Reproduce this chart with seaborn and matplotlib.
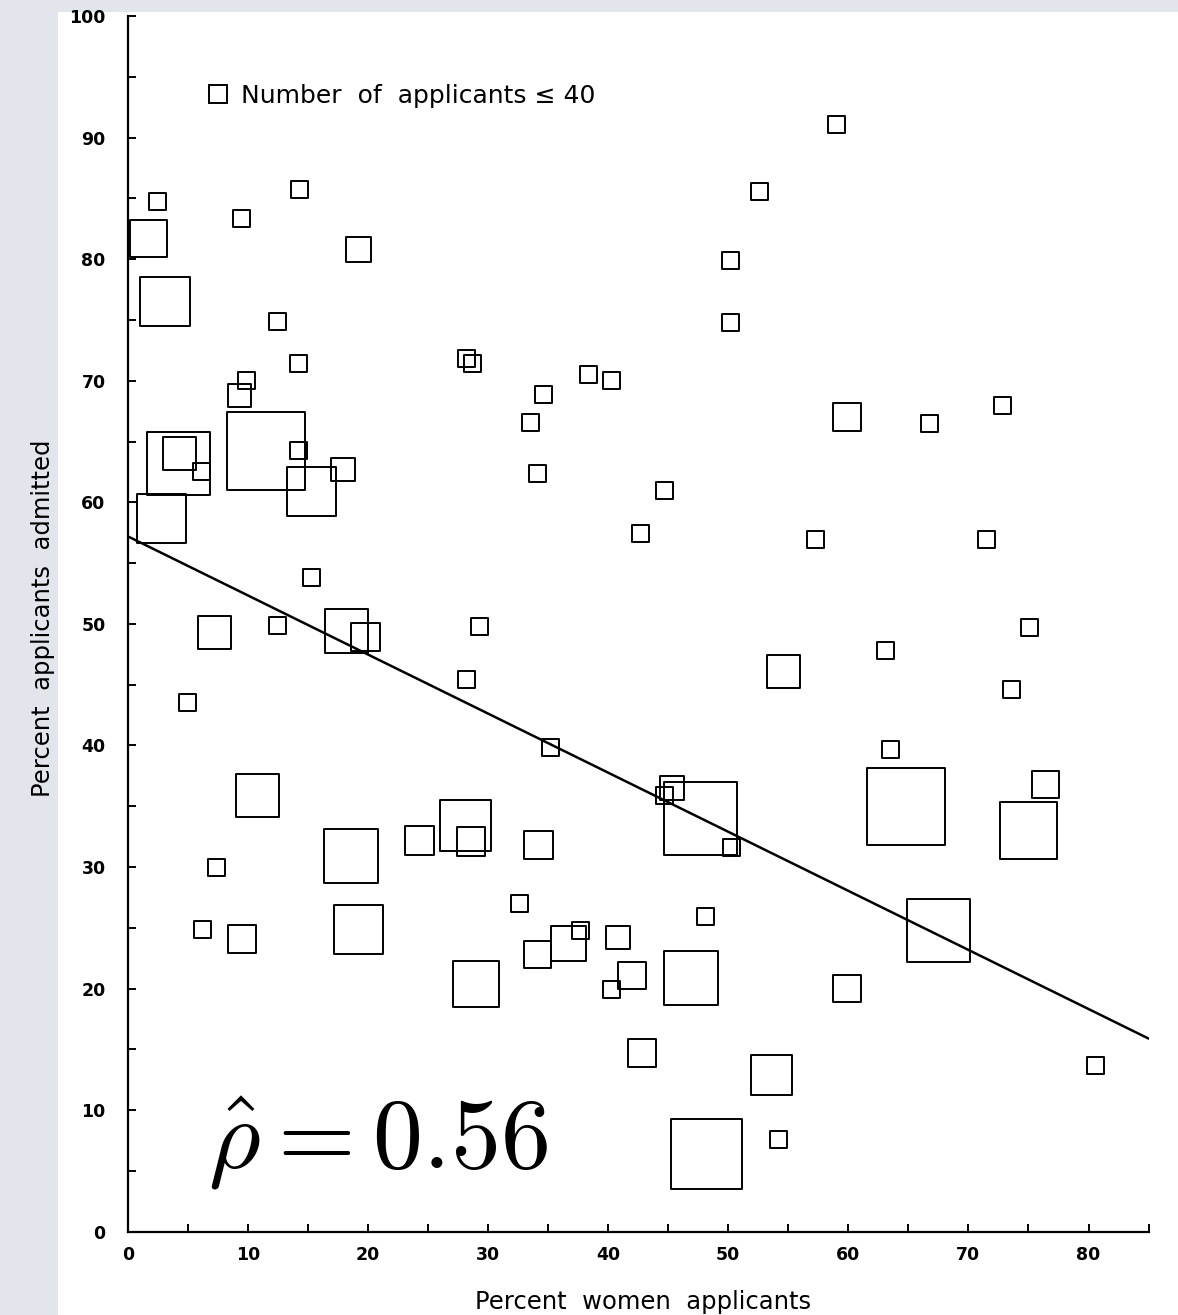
import matplotlib
matplotlib.use("Agg")
import matplotlib.pyplot as plt
import matplotlib.ticker as ticker
from matplotlib.lines import Line2D
from matplotlib.patches import Rectangle
import seaborn as sns
import pandas as pd

# percent women applicants, percent admitted, number of applicants
pct_women = [2.5, 9.5, 14.3, 1.7, 19.2, 3.1, 12.5, 14.2, 9.9, 9.3,
             28.2, 28.7, 34.6, 33.5, 38.4, 40.3, 34.1, 4.2, 4.3, 6.1,
             11.5, 14.2, 15.3, 17.9, 2.8, 59.0, 52.6, 50.2, 50.2, 59.9,
             66.8, 72.8, 44.7, 42.7, 15.3, 7.2, 12.5, 18.2, 19.8, 29.3,
             28.2, 5.0, 35.2, 10.8, 28.1, 28.6, 24.3, 34.2, 18.6, 7.4,
             57.3, 71.5, 75.1, 63.1, 54.6, 73.6, 63.5, 64.8, 76.4, 75.0,
             47.7, 45.3, 44.7, 50.3, 19.2, 6.2, 9.5, 32.6, 34.1, 36.7,
             37.7, 40.8, 29.0, 40.3, 42.0, 42.8, 48.1, 46.9, 59.9, 67.5,
             80.6, 53.6, 48.2, 54.2]
pct_admitted = [84.7, 83.3, 85.7, 81.7, 80.8, 76.5, 74.9, 71.4, 70.0, 68.8,
                71.8, 71.4, 68.9, 66.6, 70.5, 70.0, 62.4, 63.2, 64.0, 62.5,
                64.2, 64.3, 60.9, 62.7, 58.7, 91.1, 85.6, 79.9, 74.8, 67.0,
                66.5, 68.0, 61.0, 57.4, 53.8, 49.3, 49.9, 49.4, 48.9, 49.8,
                45.4, 43.5, 39.8, 35.9, 33.4, 32.1, 32.2, 31.8, 30.9, 30.0,
                56.9, 56.9, 49.7, 47.8, 46.1, 44.6, 39.7, 35.0, 36.8, 33.0,
                34.0, 36.5, 35.9, 31.6, 24.9, 24.9, 24.1, 27.0, 22.8, 23.7,
                24.8, 24.2, 20.4, 19.9, 21.1, 14.7, 25.9, 20.9, 20.0, 24.8,
                13.7, 12.9, 6.4, 7.6]
applicants = [40, 40, 40, 188, 83, 334, 40, 40, 40, 77,
              40, 40, 40, 40, 40, 40, 40, 554, 151, 40,
              851, 40, 334, 77, 334, 40, 40, 40, 40, 111,
              40, 40, 40, 40, 40, 151, 40, 261, 111, 40,
              40, 40, 40, 250, 360, 111, 111, 111, 401, 40,
              40, 40, 40, 40, 151, 40, 40, 830, 104, 460,
              732, 77, 40, 40, 334, 40, 111, 40, 104, 169,
              40, 77, 285, 40, 104, 111, 40, 401, 104, 554,
              40, 228, 695, 40]

# fitted line end points
fit_x = [0, 85]
fit_y = [57.2, 15.9]

df = pd.DataFrame({'women': pct_women, 'admitted': pct_admitted, 'n': applicants})

sns.set_style('ticks')
plt.rcParams['font.family'] = ['DejaVu Sans']
plt.rcParams['mathtext.fontset'] = 'cm'
for key in ['text.color', 'axes.labelcolor', 'xtick.color', 'ytick.color']:
    plt.rcParams[key] = 'black'

fig = plt.figure(figsize=(11.78, 13.15), dpi=100, facecolor='#e2e6ec')
fig.patches.append(Rectangle((58 / 1178, 0), 1 - 58 / 1178, 1 - 12 / 1315,
                             transform=fig.transFigure, facecolor='white',
                             edgecolor='none', zorder=-5))
ax = fig.add_axes([0.1085, 0.0632, 0.8665, 0.9247])
ax.set_facecolor('none')

sns.scatterplot(data=df, x='women', y='admitted', size='n', sizes=(0, 3745),
                size_norm=(0, 1000), marker='s', facecolor='none',
                edgecolor='black', color='black', linewidth=1.4,
                legend=False, clip_on=False, ax=ax)
sns.lineplot(x=fit_x, y=fit_y, color='black', linewidth=1.8, ax=ax)

ax.set_xlim(0, 85)
ax.set_ylim(0, 100)
ax.xaxis.set_major_locator(ticker.MultipleLocator(10))
ax.xaxis.set_minor_locator(ticker.MultipleLocator(5))
ax.yaxis.set_major_locator(ticker.MultipleLocator(10))
ax.yaxis.set_minor_locator(ticker.MultipleLocator(5))
ax.tick_params(which='both', direction='in', length=6, width=1.4, color='black')
ax.tick_params(axis='y', which='major', pad=16)
ax.tick_params(axis='x', which='major', pad=10)
for lab in ax.get_xticklabels() + ax.get_yticklabels():
    lab.set_fontsize(12.5)
    lab.set_fontweight('bold')
for side in ['top', 'right']:
    ax.spines[side].set_visible(False)
for side in ['left', 'bottom']:
    ax.spines[side].set_linewidth(1.6)
    ax.spines[side].set_color('black')

ax.set_xlabel('Percent  women  applicants', fontsize=17.5)
ax.set_ylabel('Percent  applicants  admitted', fontsize=17.5)
ax.xaxis.set_label_coords(0.505, -0.0475)
ax.yaxis.set_label_coords(-0.0715, 0.505)

handle = Line2D([], [], marker='s', markersize=12.5, markerfacecolor='none',
                markeredgecolor='black', markeredgewidth=1.4, linestyle='none')
ax.legend([handle], ['Number  of  applicants \u2264 40'], loc='center left',
          bbox_to_anchor=(0.0786, 0.9345), frameon=False, fontsize=18,
          handlelength=0.8, handletextpad=0.5, borderpad=0, borderaxespad=0)

ax.text(6.7, 5.25, r'$\hat{\rho} = 0.56$', fontsize=72, ha='left', va='baseline')

fig.savefig('out.png', dpi=100, facecolor=fig.get_facecolor())
